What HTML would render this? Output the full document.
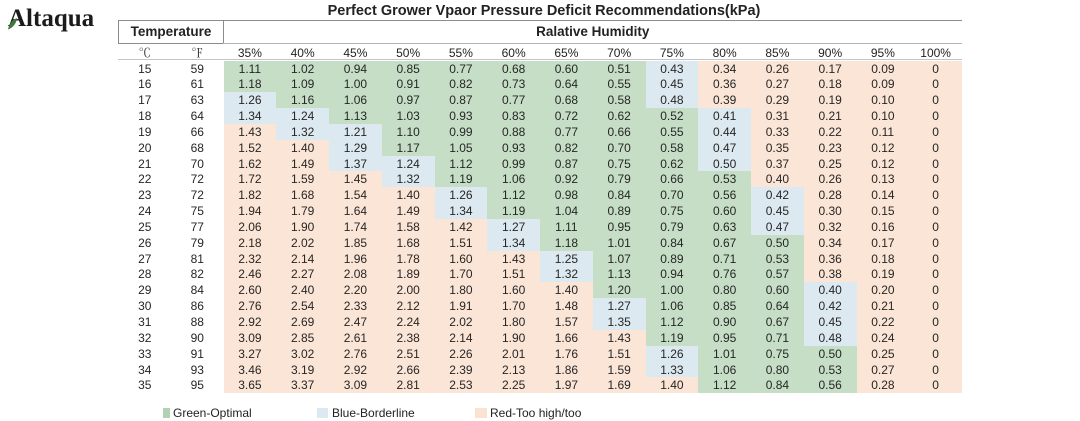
<!DOCTYPE html>
<html>
<head>
<meta charset="utf-8">
<style>
html,body{margin:0;padding:0;background:#fff;}
body{width:1080px;height:420px;position:relative;overflow:hidden;font-family:"Liberation Sans",Arial,sans-serif;color:#222;}
.abs{position:absolute;}
#logo{left:8px;top:5px;font-family:"Liberation Serif","Times New Roman",serif;font-weight:bold;font-size:25px;line-height:27px;color:#1b1b1b;white-space:nowrap;}
#title{left:290px;width:508px;top:2px;text-align:center;font-weight:bold;font-size:14.5px;line-height:18px;color:#222;white-space:nowrap;}
.ln{position:absolute;height:1px;}
.vl{position:absolute;width:1px;}
#temp{left:119px;width:104px;top:21px;height:22px;line-height:22px;text-align:center;font-weight:bold;font-size:13.5px;}
#rh{left:223.5px;width:738.5px;top:21px;height:22px;line-height:22px;text-align:center;font-weight:bold;font-size:13.5px;}
.grid{position:absolute;left:118.5px;display:grid;grid-template-columns:52.5px 52.5px repeat(14,52.75px);}
#hdr{top:44.5px;grid-auto-rows:16px;}
#hdr i{font-style:normal;text-align:center;font-size:12px;line-height:16px;color:#222;}
#hdr i.u{font-family:"Noto Serif CJK SC","Liberation Serif",serif;font-size:12px;color:#333;}
#data{top:60.5px;grid-auto-rows:15.857px;}
#data i{font-style:normal;text-align:center;font-size:12px;line-height:14.857px;padding-top:1px;color:#262626;}
#data i.g{background:#c6dec6;}
#data i.b{background:#dde9f0;}
#data i.r{background:#fbe5d6;}
.sw{position:absolute;top:408px;height:10px;}
.lg{position:absolute;top:405px;font-size:12px;line-height:16px;color:#222;white-space:nowrap;}
</style>
</head>
<body>
<div id="logo" class="abs">Altaqua</div>
<svg class="abs" style="left:7px;top:17px" width="11" height="13" viewBox="0 0 11 13"><path d="M1 12.5 C2 7 5 3 10 1 C9.5 6 6.5 10.5 1 12.5 Z" fill="#3f7a3a"/></svg>

<div id="title" class="abs">Perfect Grower Vpaor Pressure Deficit Recommendations(kPa)</div>

<div class="ln" style="left:118px;top:20px;width:844px;background:#8c8c8c;"></div>
<div class="vl" style="left:118px;top:20px;height:24px;background:#8c8c8c;"></div>
<div class="vl" style="left:222.5px;top:20px;height:24px;background:#8c8c8c;"></div>
<div class="ln" style="left:118px;top:43px;width:105px;background:#8c8c8c;"></div>
<div class="ln" style="left:223px;top:43px;width:739px;background:#b4b4b4;"></div>
<div class="ln" style="left:118px;top:59px;width:844px;background:#c4c4c4;"></div>

<div id="temp" class="abs">Temperature</div>
<div id="rh" class="abs">Ralative Humidity</div>

<div id="hdr" class="grid">
<i class="u">℃</i><i class="u">℉</i><i>35%</i><i>40%</i><i>45%</i><i>50%</i><i>55%</i><i>60%</i><i>65%</i><i>70%</i><i>75%</i><i>80%</i><i>85%</i><i>90%</i><i>95%</i><i>100%</i>
</div>

<div id="data" class="grid">
<i>15</i><i>59</i><i class="g">1.11</i><i class="g">1.02</i><i class="g">0.94</i><i class="g">0.85</i><i class="g">0.77</i><i class="g">0.68</i><i class="g">0.60</i><i class="g">0.51</i><i class="b">0.43</i><i class="r">0.34</i><i class="r">0.26</i><i class="r">0.17</i><i class="r">0.09</i><i class="r">0</i>
<i>16</i><i>61</i><i class="g">1.18</i><i class="g">1.09</i><i class="g">1.00</i><i class="g">0.91</i><i class="g">0.82</i><i class="g">0.73</i><i class="g">0.64</i><i class="g">0.55</i><i class="b">0.45</i><i class="r">0.36</i><i class="r">0.27</i><i class="r">0.18</i><i class="r">0.09</i><i class="r">0</i>
<i>17</i><i>63</i><i class="b">1.26</i><i class="g">1.16</i><i class="g">1.06</i><i class="g">0.97</i><i class="g">0.87</i><i class="g">0.77</i><i class="g">0.68</i><i class="g">0.58</i><i class="b">0.48</i><i class="r">0.39</i><i class="r">0.29</i><i class="r">0.19</i><i class="r">0.10</i><i class="r">0</i>
<i>18</i><i>64</i><i class="b">1.34</i><i class="b">1.24</i><i class="g">1.13</i><i class="g">1.03</i><i class="g">0.93</i><i class="g">0.83</i><i class="g">0.72</i><i class="g">0.62</i><i class="g">0.52</i><i class="b">0.41</i><i class="r">0.31</i><i class="r">0.21</i><i class="r">0.10</i><i class="r">0</i>
<i>19</i><i>66</i><i class="r">1.43</i><i class="b">1.32</i><i class="b">1.21</i><i class="g">1.10</i><i class="g">0.99</i><i class="g">0.88</i><i class="g">0.77</i><i class="g">0.66</i><i class="g">0.55</i><i class="b">0.44</i><i class="r">0.33</i><i class="r">0.22</i><i class="r">0.11</i><i class="r">0</i>
<i>20</i><i>68</i><i class="r">1.52</i><i class="r">1.40</i><i class="b">1.29</i><i class="g">1.17</i><i class="g">1.05</i><i class="g">0.93</i><i class="g">0.82</i><i class="g">0.70</i><i class="g">0.58</i><i class="b">0.47</i><i class="r">0.35</i><i class="r">0.23</i><i class="r">0.12</i><i class="r">0</i>
<i>21</i><i>70</i><i class="r">1.62</i><i class="r">1.49</i><i class="b">1.37</i><i class="b">1.24</i><i class="g">1.12</i><i class="g">0.99</i><i class="g">0.87</i><i class="g">0.75</i><i class="g">0.62</i><i class="b">0.50</i><i class="r">0.37</i><i class="r">0.25</i><i class="r">0.12</i><i class="r">0</i>
<i>22</i><i>72</i><i class="r">1.72</i><i class="r">1.59</i><i class="r">1.45</i><i class="b">1.32</i><i class="g">1.19</i><i class="g">1.06</i><i class="g">0.92</i><i class="g">0.79</i><i class="g">0.66</i><i class="g">0.53</i><i class="r">0.40</i><i class="r">0.26</i><i class="r">0.13</i><i class="r">0</i>
<i>23</i><i>72</i><i class="r">1.82</i><i class="r">1.68</i><i class="r">1.54</i><i class="r">1.40</i><i class="b">1.26</i><i class="g">1.12</i><i class="g">0.98</i><i class="g">0.84</i><i class="g">0.70</i><i class="g">0.56</i><i class="b">0.42</i><i class="r">0.28</i><i class="r">0.14</i><i class="r">0</i>
<i>24</i><i>75</i><i class="r">1.94</i><i class="r">1.79</i><i class="r">1.64</i><i class="r">1.49</i><i class="b">1.34</i><i class="g">1.19</i><i class="g">1.04</i><i class="g">0.89</i><i class="g">0.75</i><i class="g">0.60</i><i class="b">0.45</i><i class="r">0.30</i><i class="r">0.15</i><i class="r">0</i>
<i>25</i><i>77</i><i class="r">2.06</i><i class="r">1.90</i><i class="r">1.74</i><i class="r">1.58</i><i class="r">1.42</i><i class="b">1.27</i><i class="g">1.11</i><i class="g">0.95</i><i class="g">0.79</i><i class="g">0.63</i><i class="b">0.47</i><i class="r">0.32</i><i class="r">0.16</i><i class="r">0</i>
<i>26</i><i>79</i><i class="r">2.18</i><i class="r">2.02</i><i class="r">1.85</i><i class="r">1.68</i><i class="r">1.51</i><i class="b">1.34</i><i class="g">1.18</i><i class="g">1.01</i><i class="g">0.84</i><i class="g">0.67</i><i class="g">0.50</i><i class="r">0.34</i><i class="r">0.17</i><i class="r">0</i>
<i>27</i><i>81</i><i class="r">2.32</i><i class="r">2.14</i><i class="r">1.96</i><i class="r">1.78</i><i class="r">1.60</i><i class="r">1.43</i><i class="b">1.25</i><i class="g">1.07</i><i class="g">0.89</i><i class="g">0.71</i><i class="g">0.53</i><i class="r">0.36</i><i class="r">0.18</i><i class="r">0</i>
<i>28</i><i>82</i><i class="r">2.46</i><i class="r">2.27</i><i class="r">2.08</i><i class="r">1.89</i><i class="r">1.70</i><i class="r">1.51</i><i class="b">1.32</i><i class="g">1.13</i><i class="g">0.94</i><i class="g">0.76</i><i class="g">0.57</i><i class="r">0.38</i><i class="r">0.19</i><i class="r">0</i>
<i>29</i><i>84</i><i class="r">2.60</i><i class="r">2.40</i><i class="r">2.20</i><i class="r">2.00</i><i class="r">1.80</i><i class="r">1.60</i><i class="r">1.40</i><i class="g">1.20</i><i class="g">1.00</i><i class="g">0.80</i><i class="g">0.60</i><i class="b">0.40</i><i class="r">0.20</i><i class="r">0</i>
<i>30</i><i>86</i><i class="r">2.76</i><i class="r">2.54</i><i class="r">2.33</i><i class="r">2.12</i><i class="r">1.91</i><i class="r">1.70</i><i class="r">1.48</i><i class="b">1.27</i><i class="g">1.06</i><i class="g">0.85</i><i class="g">0.64</i><i class="b">0.42</i><i class="r">0.21</i><i class="r">0</i>
<i>31</i><i>88</i><i class="r">2.92</i><i class="r">2.69</i><i class="r">2.47</i><i class="r">2.24</i><i class="r">2.02</i><i class="r">1.80</i><i class="r">1.57</i><i class="b">1.35</i><i class="g">1.12</i><i class="g">0.90</i><i class="g">0.67</i><i class="b">0.45</i><i class="r">0.22</i><i class="r">0</i>
<i>32</i><i>90</i><i class="r">3.09</i><i class="r">2.85</i><i class="r">2.61</i><i class="r">2.38</i><i class="r">2.14</i><i class="r">1.90</i><i class="r">1.66</i><i class="r">1.43</i><i class="g">1.19</i><i class="g">0.95</i><i class="g">0.71</i><i class="b">0.48</i><i class="r">0.24</i><i class="r">0</i>
<i>33</i><i>91</i><i class="r">3.27</i><i class="r">3.02</i><i class="r">2.76</i><i class="r">2.51</i><i class="r">2.26</i><i class="r">2.01</i><i class="r">1.76</i><i class="r">1.51</i><i class="b">1.26</i><i class="g">1.01</i><i class="g">0.75</i><i class="g">0.50</i><i class="r">0.25</i><i class="r">0</i>
<i>34</i><i>93</i><i class="r">3.46</i><i class="r">3.19</i><i class="r">2.92</i><i class="r">2.66</i><i class="r">2.39</i><i class="r">2.13</i><i class="r">1.86</i><i class="r">1.59</i><i class="b">1.33</i><i class="g">1.06</i><i class="g">0.80</i><i class="g">0.53</i><i class="r">0.27</i><i class="r">0</i>
<i>35</i><i>95</i><i class="r">3.65</i><i class="r">3.37</i><i class="r">3.09</i><i class="r">2.81</i><i class="r">2.53</i><i class="r">2.25</i><i class="r">1.97</i><i class="r">1.69</i><i class="r">1.40</i><i class="g">1.12</i><i class="g">0.84</i><i class="g">0.56</i><i class="r">0.28</i><i class="r">0</i>
</div>

<div class="sw" style="left:163px;width:7px;background:#b4d1b4;"></div>
<div class="lg" style="left:173px;">Green-Optimal</div>
<div class="sw" style="left:317px;width:11px;background:#dde9f0;"></div>
<div class="lg" style="left:332px;">Blue-Borderline</div>
<div class="sw" style="left:475px;width:12px;background:#fbe2d3;"></div>
<div class="lg" style="left:490px;">Red-Too high/too</div>
</body>
</html>
